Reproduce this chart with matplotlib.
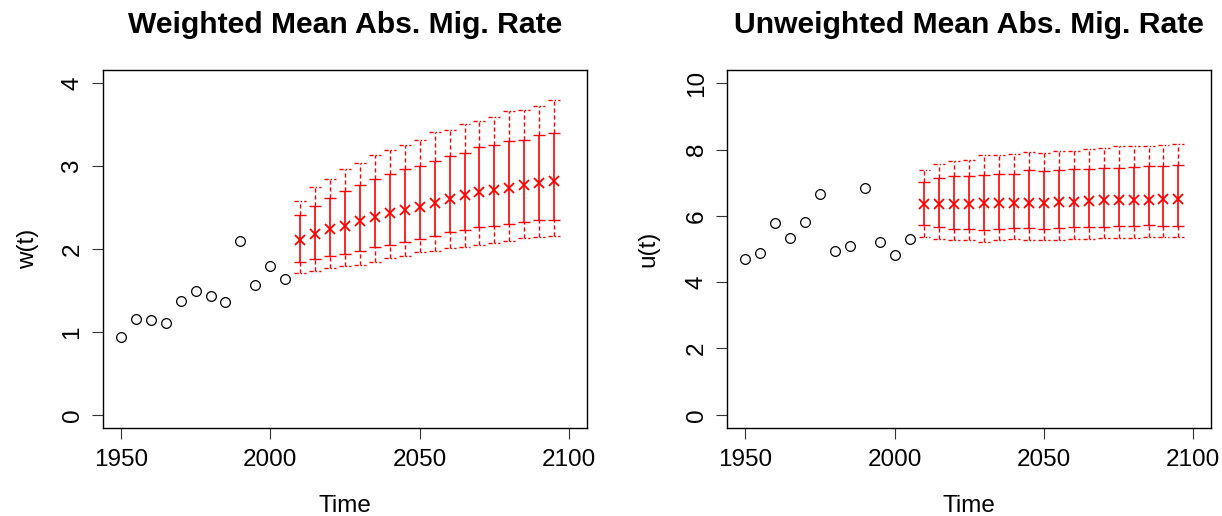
import matplotlib
matplotlib.use("Agg")
import matplotlib.pyplot as plt
import numpy as np

plt.rcParams['font.family'] = ['Liberation Sans', 'DejaVu Sans']

# ---------------- data ----------------
obs_years = [1950, 1955, 1960, 1965, 1970, 1975, 1980, 1985, 1990, 1995, 2000, 2005]
proj_years = [2010, 2015, 2020, 2025, 2030, 2035, 2040, 2045, 2050,
              2055, 2060, 2065, 2070, 2075, 2080, 2085, 2090, 2095]

w_obs = [0.94, 1.15, 1.14, 1.11, 1.37, 1.49, 1.43, 1.36, 2.10, 1.57, 1.79, 1.64]
w_med = [2.11, 2.18, 2.24, 2.28, 2.34, 2.39, 2.43, 2.47, 2.51,
         2.56, 2.60, 2.65, 2.69, 2.71, 2.74, 2.77, 2.80, 2.82]
w_lo80 = [1.84, 1.88, 1.92, 1.94, 1.98, 2.02, 2.05, 2.09, 2.12,
          2.16, 2.20, 2.23, 2.26, 2.28, 2.30, 2.32, 2.35, 2.35]
w_hi80 = [2.41, 2.52, 2.61, 2.70, 2.77, 2.84, 2.91, 2.96, 3.00,
          3.06, 3.12, 3.16, 3.23, 3.25, 3.30, 3.32, 3.37, 3.40]
w_lo95 = [1.71, 1.73, 1.77, 1.79, 1.81, 1.84, 1.89, 1.92, 1.96,
          1.98, 2.01, 2.03, 2.05, 2.07, 2.10, 2.13, 2.14, 2.16]
w_hi95 = [2.58, 2.75, 2.84, 2.97, 3.04, 3.14, 3.19, 3.26, 3.32,
          3.41, 3.44, 3.51, 3.55, 3.59, 3.66, 3.68, 3.73, 3.80]

u_obs = [4.71, 4.89, 5.79, 5.34, 5.81, 6.65, 4.94, 5.10, 6.84, 5.21, 4.83, 5.31]
u_med = [6.35, 6.35, 6.37, 6.35, 6.39, 6.38, 6.40, 6.39, 6.39,
         6.42, 6.43, 6.45, 6.47, 6.47, 6.47, 6.49, 6.50, 6.52]
u_lo80 = [5.71, 5.66, 5.60, 5.60, 5.58, 5.60, 5.62, 5.64, 5.61,
          5.63, 5.66, 5.66, 5.66, 5.69, 5.68, 5.71, 5.70, 5.70]
u_hi80 = [7.01, 7.14, 7.19, 7.19, 7.23, 7.26, 7.27, 7.37, 7.35,
          7.38, 7.42, 7.40, 7.45, 7.45, 7.48, 7.49, 7.51, 7.54]
u_lo95 = [5.37, 5.31, 5.26, 5.26, 5.22, 5.27, 5.30, 5.27, 5.26,
          5.28, 5.29, 5.29, 5.32, 5.32, 5.34, 5.35, 5.35, 5.36]
u_hi95 = [7.38, 7.56, 7.66, 7.70, 7.83, 7.83, 7.86, 7.93, 7.91,
          7.96, 7.96, 8.01, 8.05, 8.11, 8.10, 8.11, 8.14, 8.18]

titles = ["Weighted Mean Abs. Mig. Rate", "Unweighted Mean Abs. Mig. Rate"]
ylabels = ["w(t)", "u(t)"]
xticks = [1950, 2000, 2050, 2100]
yticks_list = [[0, 1, 2, 3, 4], [0, 2, 4, 6, 8, 10]]
ylims = [(0, 4), (0, 10)]

# ---------------- figure ----------------
W, H = 1222, 516
fig = plt.figure(figsize=(W / 100, H / 100), dpi=100)

FS = 17.5
RED = '#FF0000'
axes_px = [(103, 70, 484, 358), (727.3, 70, 484, 358)]

panels = [
    (w_obs, w_med, w_lo80, w_hi80, w_lo95, w_hi95),
    (u_obs, u_med, u_lo80, u_hi80, u_lo95, u_hi95),
]

for i, (obs, med, lo80, hi80, lo95, hi95) in enumerate(panels):
    x0, y0, w, h = axes_px[i]
    ax = fig.add_axes([x0 / W, 1 - (y0 + h) / H, w / W, h / H])
    xr = (1950, 2100)
    dx = (xr[1] - xr[0]) * 0.04
    ax.set_xlim(xr[0] - dx, xr[1] + dx)
    yl = ylims[i]
    dy = (yl[1] - yl[0]) * 0.04
    ax.set_ylim(yl[0] - dy, yl[1] + dy)

    py = np.array(proj_years)
    med = np.array(med)
    lo80 = np.array(lo80); hi80 = np.array(hi80)
    lo95 = np.array(lo95); hi95 = np.array(hi95)

    # outer (95%) dashed verticals
    ax.vlines(py, hi80, hi95, colors=RED, linestyles=(0, (3, 2)), lw=1.0)
    ax.vlines(py, lo95, lo80, colors=RED, linestyles=(0, (3, 2)), lw=1.0)
    capw = 2.0
    ax.hlines(hi95, py - capw, py + capw, colors=RED, linestyles=(0, (3, 1.5, 1, 1.5)), lw=1.0)
    ax.hlines(lo95, py - capw, py + capw, colors=RED, linestyles=(0, (3, 1.5, 1, 1.5)), lw=1.0)

    # inner (80%) solid error bars
    ax.errorbar(py, med, yerr=[med - lo80, hi80 - med], fmt='none',
                ecolor=RED, elinewidth=1.2, capsize=4.3, capthick=1.0)
    ax.plot(py, med, linestyle='none', marker='x', color=RED, ms=7, mew=1.3)

    ax.plot(obs_years, obs, linestyle='none', marker='o', mfc='none', mec='black',
            ms=7, mew=0.9)

    ax.set_xticks(xticks)
    ax.set_yticks(yticks_list[i])
    ax.tick_params(axis='both', length=8, width=0.8, color='#333333',
                   labelsize=FS, pad=7)
    ax.tick_params(axis='y', pad=6)
    for lab in ax.get_yticklabels():
        lab.set_rotation(90)
        lab.set_va('center')
    for sp in ax.spines.values():
        sp.set_linewidth(1.0)
        sp.set_color('black')

    ax.set_xlabel("Time", fontsize=FS)
    ax.xaxis.set_label_coords(0.5, (428 - 506) / 358)
    ax.xaxis.label.set_va('center')
    ax.set_ylabel(ylabels[i], fontsize=FS)
    ax.yaxis.set_label_coords(((28 if i == 0 else 648) - x0) / w, 0.5)
    ax.yaxis.label.set_va('center')

    fig.text((x0 + w / 2) / W, 1 - 33 / H, titles[i], ha='center', va='baseline',
             fontsize=21.7, fontweight='bold')

fig.savefig("out.png", dpi=100)
